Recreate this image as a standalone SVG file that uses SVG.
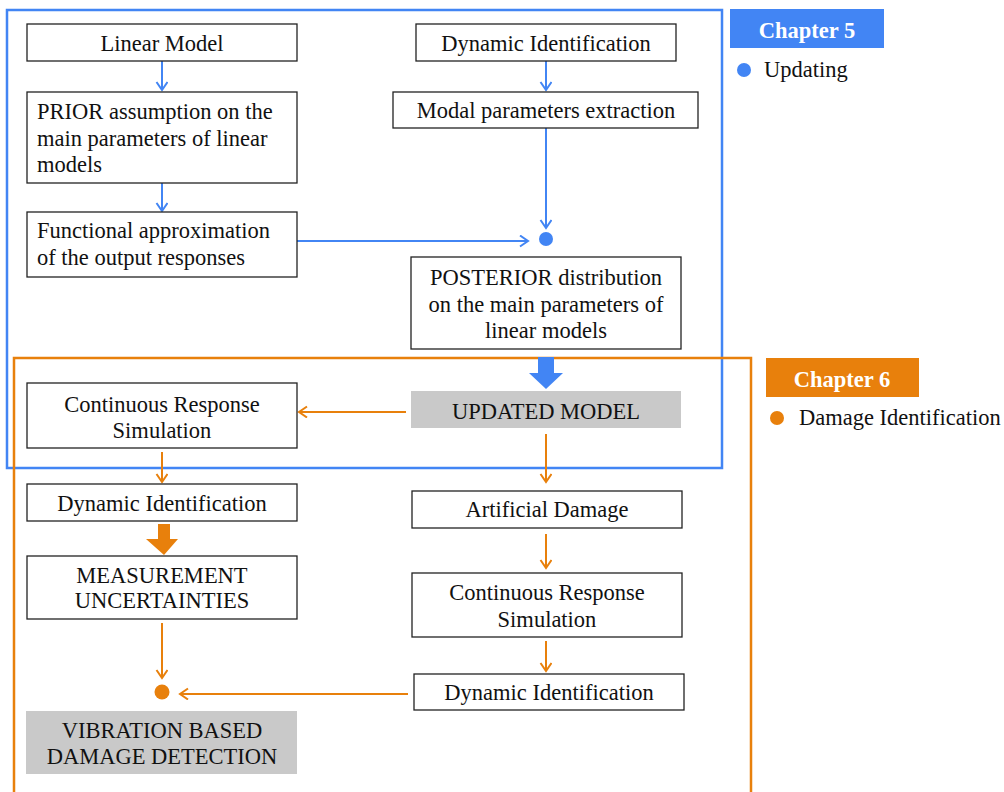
<svg xmlns="http://www.w3.org/2000/svg" width="1004" height="792" viewBox="0 0 1004 792">
<defs>
<style>
.box{fill:#fff;stroke:#222;stroke-width:1.3}
.gray{fill:#c9c9c9;stroke:none}
.t{font-family:"Liberation Serif","Times New Roman",serif;font-size:22.5px;fill:#111}
.c{text-anchor:middle}
.lab{font-family:"Liberation Serif","Times New Roman",serif;font-size:22.5px;font-weight:bold;fill:#fff;text-anchor:middle}
.bl{stroke:#4285f4;stroke-width:2;fill:none}
.or{stroke:#e8800c;stroke-width:2;fill:none}
.frameB{stroke:#4285f4;stroke-width:2.5;fill:none}
.frameO{stroke:#e8800c;stroke-width:2.5;fill:none}
</style>
<marker id="ab" markerUnits="userSpaceOnUse" markerWidth="14" markerHeight="14" refX="9" refY="6" orient="auto">
<path d="M1,0.5 L9,6 L1,11.5" fill="none" stroke="#4285f4" stroke-width="2"/>
</marker>
<marker id="ao" markerUnits="userSpaceOnUse" markerWidth="14" markerHeight="14" refX="9" refY="6" orient="auto">
<path d="M1,0.5 L9,6 L1,11.5" fill="none" stroke="#e8800c" stroke-width="2"/>
</marker>
</defs>
<rect width="1004" height="792" fill="#fff"/>

<g id="frames">
<rect class="frameB" x="7" y="10" width="715" height="458"/>
<path class="frameO" d="M14,792 L14,358 L751,358 L751,792"/>
</g>

<g id="legend5">
<rect x="730" y="9" width="154" height="39" fill="#4285f4"/>
<text class="lab" x="807" y="38">Chapter 5</text>
<circle cx="744" cy="70" r="7" fill="#4285f4"/>
<text class="t" x="764" y="77">Updating</text>
</g>
<g id="legend6">
<rect x="766" y="358" width="153" height="39" fill="#e8800c"/>
<text class="lab" x="842" y="387">Chapter 6</text>
<circle cx="777" cy="418" r="7" fill="#e8800c"/>
<text class="t" x="799" y="425">Damage Identification</text>
</g>

<g id="connectors">
<line class="bl" x1="162" y1="61" x2="162" y2="90" marker-end="url(#ab)"/>
<line class="bl" x1="162" y1="183" x2="162" y2="211" marker-end="url(#ab)"/>
<line class="bl" x1="546" y1="61" x2="546" y2="90" marker-end="url(#ab)"/>
<line class="bl" x1="546" y1="128" x2="546" y2="228" marker-end="url(#ab)"/>
<line class="bl" x1="297" y1="241" x2="528" y2="241" marker-end="url(#ab)"/>
<polygon points="538,357 554,357 554,373 563,373 546,389 529,373 538,373" fill="#4285f4"/>
<line class="or" x1="406" y1="412" x2="299" y2="412" marker-end="url(#ao)"/>
<line class="or" x1="162" y1="452" x2="162" y2="482" marker-end="url(#ao)"/>
<polygon points="158,524 170,524 170,539 178,539 164,555 146,539 158,539" fill="#e8800c"/>
<line class="or" x1="546" y1="434" x2="546" y2="482" marker-end="url(#ao)"/>
<line class="or" x1="546" y1="534" x2="546" y2="568" marker-end="url(#ao)"/>
<line class="or" x1="546" y1="641" x2="546" y2="671" marker-end="url(#ao)"/>
<line class="or" x1="162" y1="623" x2="162" y2="678" marker-end="url(#ao)"/>
<line class="or" x1="408" y1="694" x2="180" y2="694" marker-end="url(#ao)"/>
<circle cx="546" cy="239" r="7" fill="#4285f4"/>
<circle cx="162" cy="692" r="7.5" fill="#e8800c"/>
</g>

<g id="linear-model">
<rect class="box" x="27" y="24" width="270" height="37"/>
<text class="t c" x="162" y="51">Linear Model</text>
</g>
<g id="prior">
<rect class="box" x="27" y="92" width="270" height="91"/>
<text class="t" x="37" y="119">PRIOR assumption on the</text>
<text class="t" x="37" y="146">main parameters of linear</text>
<text class="t" x="37" y="172">models</text>
</g>
<g id="functional">
<rect class="box" x="27" y="212" width="270" height="65"/>
<text class="t" x="37" y="238">Functional approximation</text>
<text class="t" x="37" y="265">of the output responses</text>
</g>
<g id="dyn-id-top">
<rect class="box" x="416" y="24" width="260" height="37"/>
<text class="t c" x="546" y="51">Dynamic Identification</text>
</g>
<g id="modal">
<rect class="box" x="393" y="92" width="305" height="36"/>
<text class="t c" x="546" y="118">Modal parameters extraction</text>
</g>
<g id="posterior">
<rect class="box" x="411" y="257" width="270" height="92"/>
<text class="t c" x="546" y="285">POSTERIOR distribution</text>
<text class="t c" x="546" y="312">on the main parameters of</text>
<text class="t c" x="546" y="338">linear models</text>
</g>
<g id="updated-model">
<rect class="gray" x="411" y="391" width="270" height="37"/>
<text class="t c" x="546" y="419">UPDATED MODEL</text>
</g>
<g id="crs-left">
<rect class="box" x="27" y="383" width="270" height="65"/>
<text class="t c" x="162" y="412">Continuous Response</text>
<text class="t c" x="162" y="438">Simulation</text>
</g>
<g id="dyn-id-left">
<rect class="box" x="27" y="484" width="270" height="37"/>
<text class="t c" x="162" y="511">Dynamic Identification</text>
</g>
<g id="measurement">
<rect class="box" x="27" y="556" width="270" height="63"/>
<text class="t c" x="162" y="583">MEASUREMENT</text>
<text class="t c" x="162" y="608">UNCERTAINTIES</text>
</g>
<g id="artificial-damage">
<rect class="box" x="412" y="491" width="270" height="37"/>
<text class="t c" x="547" y="517">Artificial Damage</text>
</g>
<g id="crs-right">
<rect class="box" x="412" y="573" width="270" height="64"/>
<text class="t c" x="547" y="600">Continuous Response</text>
<text class="t c" x="547" y="627">Simulation</text>
</g>
<g id="dyn-id-right">
<rect class="box" x="414" y="674" width="270" height="36"/>
<text class="t c" x="549" y="700">Dynamic Identification</text>
</g>
<g id="vbdd">
<rect class="gray" x="26" y="711" width="271" height="63"/>
<text class="t c" x="162" y="738">VIBRATION BASED</text>
<text class="t c" x="162" y="764">DAMAGE DETECTION</text>
</g>
</svg>
